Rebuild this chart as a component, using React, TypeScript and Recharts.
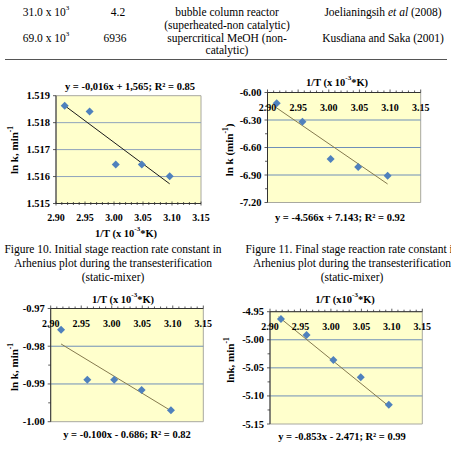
import React from 'react';
import { ScatterChart, Scatter, XAxis, YAxis, ReferenceLine, ReferenceArea } from 'recharts';

const W = 451;
const H = 455;
const FONT = '"Liberation Serif", "Times New Roman", serif';

// ---------- data ----------
const xTicks = [2.9, 2.95, 3.0, 3.05, 3.1, 3.15];

const c1X = [2.915, 2.958, 3.003, 3.048, 3.096];
const c1Y = [1.51863, 1.51841, 1.51645, 1.51645, 1.51601];
const c1TrendX = [2.915, 3.096];
const c1TrendY = [1.51863, 1.51573];
const c1YTicks = [1.515, 1.516, 1.517, 1.518, 1.519];

const c2X = [2.915, 2.957, 3.003, 3.048, 3.096];
const c2Y = [-6.118, -6.318, -6.725, -6.813, -6.907];
const c2TrendX = [2.912, 3.096];
const c2TrendY = [-6.155, -6.998];
const c2YTicks = [-7.2, -6.9, -6.6, -6.3, -6.0];

const c3X = [2.917, 2.96, 3.004, 3.049, 3.097];
const c3Y = [-0.97562, -0.98887, -0.98887, -0.9916, -0.99698];
const c3TrendX = [2.917, 3.094];
const c3TrendY = [-0.9794, -0.9968];
const c3YTicks = [-1.0, -0.99, -0.98, -0.97];

const c4X = [2.918, 2.96, 3.004, 3.049, 3.095];
const c4Y = [-4.963, -4.9915, -5.036, -5.0668, -5.1156];
const c4TrendX = [2.914, 3.096];
const c4TrendY = [-4.959, -5.119];
const c4YTicks = [-5.15, -5.1, -5.05, -5.0, -4.95];

// ---------- helpers ----------
const r4 = (v: number) => Math.round(v * 10000) / 10000;
const subdivide = (arr: number[], n: number) => {
  const out: number[] = [];
  for (let i = 0; i < arr.length - 1; i++) {
    for (let k = 0; k < n; k++) out.push(r4(arr[i] + ((arr[i + 1] - arr[i]) * k) / n));
  }
  out.push(arr[arr.length - 1]);
  return out;
};
const isIn = (arr: number[], v: number) => arr.some((a) => Math.abs(a - v) < 1e-6);

const XH = 20;
const YW = 40;

const Diamond = (p: any) => {
  const { cx, cy } = p;
  const s = 4;
  return (
    <polygon
      points={`${cx},${cy - s} ${cx + s},${cy} ${cx},${cy + s} ${cx - s},${cy}`}
      fill="#4F81BD"
    />
  );
};

type PanelProps = {
  xs: number[];
  ys: number[];
  tx: number[];
  ty: number[];
  yTicks: number[];
  yDigits: number;
  yMinor: boolean;
  box: { l: number; t: number; r: number; b: number };
  xTop: boolean;
  trendColor: string;
  gridColor: string;
};

const Panel = ({ xs, ys, tx, ty, yTicks, yDigits, yMinor, box, xTop, trendColor, gridColor }: PanelProps) => {
  const data = xs.map((x, i) => ({ x, y: ys[i] }));
  const xAll = subdivide(xTicks, 5);
  const yAll = yMinor ? subdivide(yTicks, 2) : yTicks;
  const ymin = yTicks[0];
  const ymax = yTicks[yTicks.length - 1];
  const margin = {
    top: xTop ? box.t - XH : box.t,
    bottom: xTop ? H - box.b : H - box.b - XH,
    left: box.l - YW,
    right: W - box.r,
  };
  const xTick = (props: any) => {
    const { x, y, payload } = props;
    const v = payload.value;
    const major = isIn(xTicks, v);
    const len = major ? 3 : 2;
    return (
      <g>
        {xTop ? (
          <line x1={x} x2={x} y1={y - len} y2={y} stroke="#333" strokeWidth={0.8} />
        ) : (
          <line x1={x} x2={x} y1={y - len / 2 - 0.5} y2={y + len / 2 + 0.5} stroke="#333" strokeWidth={0.8} />
        )}
        {major && (
          <text
            x={x}
            y={xTop ? y + 15 : y + 13.5}
            textAnchor="middle"
            dominantBaseline="central"
            fontSize={10}
            fontWeight="bold"
            fontFamily={FONT}
            fill="#000"
          >
            {v.toFixed(2)}
          </text>
        )}
      </g>
    );
  };
  const yTick = (props: any) => {
    const { x, y, payload } = props;
    const v = payload.value;
    const major = isIn(yTicks, v);
    return (
      <g>
        <line x1={x - (major ? 3 : 2.5)} x2={x} y1={y} y2={y} stroke="#333" strokeWidth={0.8} />
        {major && (
          <text
            x={x - 6}
            y={y}
            textAnchor="end"
            dominantBaseline="central"
            fontSize={10.5}
            fontWeight="bold"
            fontFamily={FONT}
            fill="#000"
          >
            {v.toFixed(yDigits)}
          </text>
        )}
      </g>
    );
  };
  return (
    <div style={{ position: 'absolute', left: 0, top: 0 }}>
      <ScatterChart width={W} height={H} margin={margin}>
        <ReferenceArea
          x1={2.9}
          x2={3.15}
          y1={ymin}
          y2={ymax}
          fill="#FFFFCC"
          fillOpacity={1}
          stroke="#A8A8A0"
          strokeWidth={1}
        />
        {yTicks.slice(1, -1).map((v) => (
          <ReferenceLine key={v} y={v} stroke={gridColor} strokeWidth={1} />
        ))}
        <XAxis
          type="number"
          dataKey="x"
          domain={[2.9, 3.15]}
          ticks={xAll}
          interval={0}
          orientation={xTop ? 'top' : 'bottom'}
          height={XH}
          tickSize={0}
          tickMargin={0}
          tickLine={false}
          axisLine={{ stroke: '#333', strokeWidth: 1 }}
          tick={xTick}
          allowDataOverflow
        />
        <YAxis
          type="number"
          dataKey="y"
          domain={[ymin, ymax]}
          ticks={yAll}
          interval={0}
          width={YW}
          tickSize={0}
          tickMargin={0}
          tickLine={false}
          axisLine={{ stroke: '#333', strokeWidth: 1 }}
          tick={yTick}
          allowDataOverflow
        />
        <ReferenceLine
          segment={[
            { x: tx[0], y: ty[0] },
            { x: tx[1], y: ty[1] },
          ]}
          stroke={trendColor}
          strokeWidth={1}
        />
        <Scatter data={data} isAnimationActive={false} shape={Diamond} />
      </ScatterChart>
    </div>
  );
};

// ---------- static text ----------
type TProps = { x: number; y: number; size?: number; bold?: boolean; anchor?: 'start' | 'middle' | 'end'; rotate?: boolean; children: any };
const T = ({ x, y, size = 10, bold = false, anchor = 'middle', rotate = false, children }: TProps) => (
  <text
    x={x}
    y={y}
    fontSize={size}
    fontWeight={bold ? 'bold' : 'normal'}
    textAnchor={anchor}
    dominantBaseline="central"
    fontFamily={FONT}
    fill="#000"
    transform={rotate ? `rotate(-90 ${x} ${y})` : undefined}
  >
    {children}
  </text>
);

// base text, superscript, and optional trailing text
const supParts = (base: string, sup: string, rest: string, size: number, d: number) => [
  <tspan key="b">{base}</tspan>,
  <tspan key="s" dy={-d} fontSize={size}>
    {sup}
  </tspan>,
  rest ? (
    <tspan key="r" dy={d}>
      {rest}
    </tspan>
  ) : null,
];

const AxisTitle = ({ x, y, compact }: { x: number; y: number; compact?: boolean }) => (
  <T x={x} y={y} bold size={10.5}>
    {supParts(compact ? '1/T (x10' : '1/T (x 10', '-3', '*K)', 7, 4)}
  </T>
);

const YTitle = ({ x, y, text, paren }: { x: number; y: number; text: string; paren?: boolean }) => (
  <T x={x} y={y} bold size={11} rotate>
    {supParts(text, '-1', paren ? ')' : '', 7.5, 4)}
  </T>
);

const CAP = 11.5;

const Overlay = () => (
  <svg width={W} height={H} style={{ position: 'absolute', left: 0, top: 0, pointerEvents: 'none' }}>
    {/* table fragment */}
    <T x={46} y={12} size={CAP}>{supParts('31.0 x 10', '3', '', 7, 4)}</T>
    <T x={118} y={12} size={CAP}>4.2</T>
    <T x={227} y={12} size={CAP}>bubble column reactor</T>
    <T x={383} y={12} size={CAP}>
      <tspan>Joelianingsih </tspan>
      <tspan fontStyle="italic">et al</tspan>
      <tspan> (2008)</tspan>
    </T>
    <T x={227} y={25} size={CAP}>(superheated-non catalytic)</T>
    <T x={46} y={38} size={CAP}>{supParts('69.0 x 10', '3', '', 7, 4)}</T>
    <T x={115} y={38} size={CAP}>6936</T>
    <T x={227} y={38} size={CAP}>supercritical MeOH (non-</T>
    <T x={383} y={38} size={CAP}>Kusdiana and Saka (2001)</T>
    <T x={227} y={50} size={CAP}>catalytic)</T>
    <line x1={5} x2={447} y1={59.5} y2={59.5} stroke="#555" strokeWidth={1} />

    {/* chart 1 */}
    <T x={130} y={86} bold size={10.5}>y = -0,016x + 1,565; R² = 0.85</T>
    <AxisTitle x={126} y={233} />
    <YTitle x={14} y={150} text="ln k, min" />

    {/* chart 2 */}
    <AxisTitle x={337} y={82} />
    <T x={340} y={217} bold size={10.5}>y = -4.566x + 7.143; R² = 0.92</T>
    <YTitle x={229} y={150} text="ln k (min" paren />

    {/* captions */}
    <T x={113} y={249} size={CAP}>Figure 10. Initial stage reaction rate constant in</T>
    <T x={113} y={263} size={CAP}>Arhenius plot during the transesterification</T>
    <T x={113} y={277} size={CAP}>(static-mixer)</T>
    <T x={352} y={249} size={CAP}>Figure 11. Final stage reaction rate constant in</T>
    <T x={352} y={263} size={CAP}>Arhenius plot during the transesterification</T>
    <T x={352} y={277} size={CAP}>(static-mixer)</T>

    {/* chart 3 */}
    <AxisTitle x={123} y={299} />
    <T x={127} y={434} bold size={10.5}>y = -0.100x - 0.686; R² = 0.82</T>
    <YTitle x={14} y={367} text="ln k, min" />

    {/* chart 4 */}
    <AxisTitle x={345} y={299} compact />
    <T x={342} y={436} bold size={10.5}>y = -0.853x - 2.471; R² = 0.99</T>
    <YTitle x={230} y={360} text="lnk, min" />
  </svg>
);

export default function App() {
  return (
    <div
      style={{
        position: 'absolute',
        left: 0,
        top: 0,
        width: W,
        height: H,
        overflow: 'hidden',
        background: '#fff',
      }}
    >
      <Panel
        xs={c1X}
        ys={c1Y}
        tx={c1TrendX}
        ty={c1TrendY}
        yTicks={c1YTicks}
        yDigits={3}
        yMinor={false}
        box={{ l: 56, t: 95.7, r: 201, b: 203.5 }}
        xTop={false}
        trendColor="#1a1a1a"
        gridColor="#8FA3BC"
      />
      <Panel
        xs={c2X}
        ys={c2Y}
        tx={c2TrendX}
        ty={c2TrendY}
        yTicks={c2YTicks}
        yDigits={2}
        yMinor
        box={{ l: 267.5, t: 92.5, r: 420.7, b: 202.5 }}
        xTop
        trendColor="#857A4E"
        gridColor="#6F8FB8"
      />
      <Panel
        xs={c3X}
        ys={c3Y}
        tx={c3TrendX}
        ty={c3TrendY}
        yTicks={c3YTicks}
        yDigits={2}
        yMinor
        box={{ l: 50.7, t: 308.5, r: 203.3, b: 421.7 }}
        xTop
        trendColor="#857A4E"
        gridColor="#6F8FB8"
      />
      <Panel
        xs={c4X}
        ys={c4Y}
        tx={c4TrendX}
        ty={c4TrendY}
        yTicks={c4YTicks}
        yDigits={2}
        yMinor
        box={{ l: 270, t: 311.7, r: 422.3, b: 424 }}
        xTop
        trendColor="#857A4E"
        gridColor="#6F8FB8"
      />
      <Overlay />
    </div>
  );
}
